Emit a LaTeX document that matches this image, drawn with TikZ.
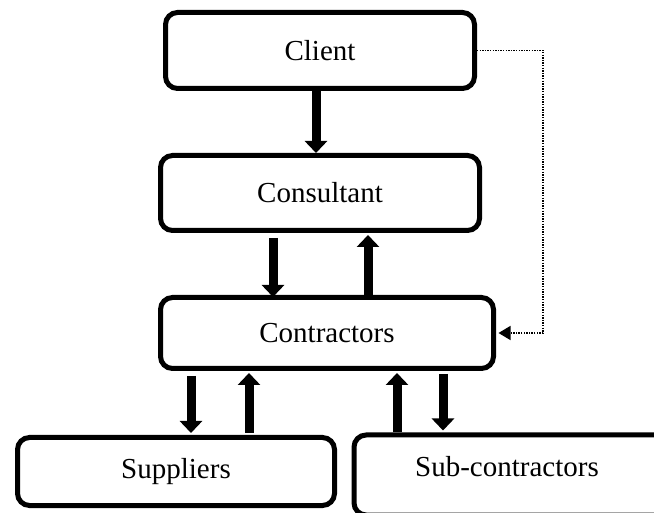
\documentclass[tikz,border=0pt]{standalone}
\usepackage{fontspec}
\setmainfont{Liberation Serif}
\usetikzlibrary{arrows.meta,calc}
\begin{document}
\begin{tikzpicture}[x=1pt,y=1pt,
  box/.style={draw, line width=5pt, rounded corners=12pt, fill=white,
    inner sep=0pt, font=\fontsize{29}{34}\selectfont},
  flow/.style={line width=9pt, -{Triangle[width=22pt,length=12pt]}},
  link/.style={line width=1.4pt, dash pattern=on 1.4pt off 1.2pt,
    -{Triangle[width=14pt,length=12pt]}}]
\useasboundingbox (0,0) rectangle (654,512);
\clip (0,0) rectangle (654,512);
\fill[white] (0,0) rectangle (654,512);

% organisation boxes
\node[box, minimum width=309pt, minimum height=76pt] (client) at (320,461.5) {Client};
\node[box, minimum width=319pt, minimum height=75pt] (cons) at (320,319) {Consultant};
\node[box, minimum width=333pt, minimum height=71pt] (contr) at (327,179) {Contractors};
\node[box, minimum width=317pt, minimum height=68pt] (supp) at (176,40.5) {Suppliers};
\node[box, minimum width=330pt, minimum height=80pt, anchor=north west] (subc) at (351.5,79.5) {};
\node[font=\fontsize{29}{34}\selectfont, inner sep=0pt] (subcl) at (507,45) {Sub-contractors};

% thick flow arrows
\draw[flow] (client.south -| 316,0) -- (cons.north -| 316,0);
\draw[flow] ($(cons.south -| 273,0)+(0,-5)$) -- ($(contr.north -| 273,0)+(0,-2)$);
\draw[flow] ($(contr.north -| 368,0)+(0,-2)$) -- ($(cons.south -| 368,0)+(0,-2)$);
\draw[flow] ($(contr.south -| 191,0)+(0,-5)$) -- ($(supp.north -| 191,0)+(0,2)$);
\draw[flow] ($(supp.north -| 249,0)+(0,2)$) -- ($(contr.south -| 249,0)+(0,-2)$);
\draw[flow] ($(subc.north -| 397,0)+(0,0)$) -- ($(contr.south -| 397,0)+(0,-2)$);
\draw[flow] ($(contr.south -| 443,0)+(0,-3)$) -- ($(subc.north -| 443,0)+(0,2)$);

% dotted link from client to contractors
\coordinate (c1) at (543,0);
\draw[link] (client.east) -- (client.east -| c1) -- (contr.east -| c1) -- ($(contr.east)+(2.5,0)$);
\end{tikzpicture}
\end{document}
